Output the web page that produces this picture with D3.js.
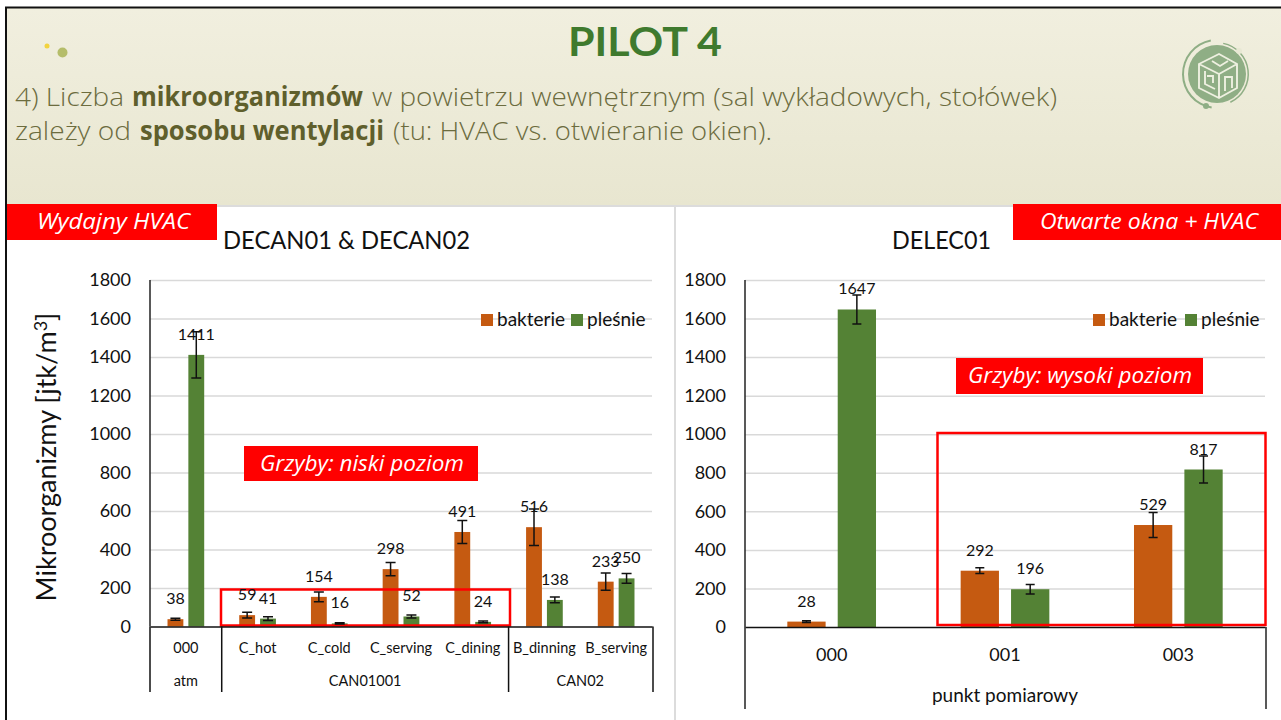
<!DOCTYPE html>
<html><head><meta charset="utf-8">
<script src="https://cdn.jsdelivr.net/npm/d3@7/dist/d3.min.js"></script>
<style>html,body{margin:0;padding:0;background:#fff}svg{display:block}text{font-family:Lato,sans-serif;fill:#111}</style>
</head><body><svg id="c" width="1281" height="720"></svg>
<script>
const seriesNames=["bakterie","pleśnie"];
const seriesColors=["#c55a11","#548235"];
const yTicks=[0,200,400,600,800,1000,1200,1400,1600,1800];
const leftCats=["000","C_hot","C_cold","C_serving","C_dining","B_dinning","B_serving"];
const leftBact=[38,59,154,298,491,516,233];
const leftMold=[1411,41,16,52,24,138,250];
const leftBactErr=[5,15,25,35,60,95,45];
const leftMoldErr=[120,10,3,8,5,15,25];
const leftGroups=[["atm",1],["CAN01001",4],["CAN02",2]];
const rightCats=["000","001","003"];
const rightBact=[28,292,529];
const rightMold=[1647,196,817];
const rightBactErr=[5,15,65];
const rightMoldErr=[75,25,70];

const svg=d3.select("#c");
const defs=svg.append("defs");
const g=defs.append("linearGradient").attr("id","bg").attr("x1",0).attr("x2",0).attr("y1",0).attr("y2",1);
g.append("stop").attr("offset",0).attr("stop-color","#f1efdf");
g.append("stop").attr("offset",1).attr("stop-color","#e8e6d0");

svg.append("rect").attr("x",6).attr("y",8).attr("width",1275).attr("height",197).attr("fill","url(#bg)");
svg.append("rect").attr("x",6).attr("y",205).attr("width",1275).attr("height",2).attr("fill","#dcdcdc");
svg.append("rect").attr("x",674).attr("y",205).attr("width",2).attr("height",515).attr("fill","#dcdcdc");
svg.append("path").attr("d","M6 720V7.5H1281").attr("fill","none").attr("stroke","#111").attr("stroke-width",2);

svg.append("circle").attr("cx",47).attr("cy",46).attr("r",2.5).attr("fill","#f2cf2c").attr("opacity",.9);
svg.append("circle").attr("cx",62.5).attr("cy",52.5).attr("r",5).attr("fill","#b5bd6a");

svg.append("text").attr("x",645).attr("y",56).attr("text-anchor","middle").attr("font-size",40).attr("font-weight",700)
  .style("fill","#3f7a2e").attr("textLength",154).attr("lengthAdjust","spacingAndGlyphs").text("PILOT 4");

function rich(y,parts){
  parts.forEach(([s,b,x0,x1])=>{
    svg.append("text").attr("x",x0).attr("y",y).attr("font-size",26)
      .style("font-family","'Open Sans',sans-serif").style("fill",b?"#5f5f2c":"#6c6c3e").attr("font-weight",b?700:300)
      .attr("textLength",x1-x0).attr("lengthAdjust","spacingAndGlyphs").text(s);
  });
}
rich(106,[["4) Liczba",0,15,124],["mikroorganizmów",1,132,363],["w powietrzu wewnętrznym (sal wykładowych, stołówek)",0,372,1057]]);
rich(140,[["zależy od",0,15,131],["sposobu wentylacji",1,140,384],["(tu: HVAC vs. otwieranie okien).",0,393,772]]);

// logo
const logo=svg.append("g").attr("transform","translate(1217,74)");
logo.append("circle").attr("r",29).attr("fill","#8fae85");
logo.append("path").attr("d",d3.arc()({innerRadius:33,outerRadius:35,startAngle:3.3,endAngle:6.1})).attr("fill","#8fae85");
logo.append("path").attr("d",d3.arc()({innerRadius:30.5,outerRadius:32,startAngle:0.2,endAngle:2.7})).attr("fill","#8fae85");
logo.append("circle").attr("cx",-11).attr("cy",32).attr("r",3).attr("fill","#8fae85");
logo.append("circle").attr("cx",22).attr("cy",-23).attr("r",3).attr("fill","#e8e8d4");
logo.append("path").attr("d","M-18 -10L2 -20L20 -10V14L2 24L-18 14ZM-18 -10L2 0L20 -10M2 0V24M-12 -3V10L-2 15M-10 2H-4V9M8 17V3H15V14M-5 -13L3 -8L11 -13")
  .attr("fill","none").attr("stroke","#eef0e0").attr("stroke-width",1.9);

function tag(x,y,w,h,tx,tw,label,fs){
  svg.append("rect").attr("x",x).attr("y",y).attr("width",w).attr("height",h).attr("fill","#ff0000");
  svg.append("text").attr("x",tx).attr("y",y+h/2+fs*0.34).attr("font-size",fs).attr("font-style","italic")
    .style("font-family","'Open Sans',sans-serif").style("fill","#fff").attr("textLength",tw).attr("lengthAdjust","spacingAndGlyphs").text(label);
}

function chart(o){
  const y=d3.scaleLinear().domain([0,1800]).range([o.y0,280]);
  const x0=d3.scaleBand().domain(o.cats).range([o.x0,o.x1]);
  const x1=d3.scaleBand().domain(seriesNames).range([0,x0.bandwidth()]).paddingInner(.24).paddingOuter(.84);
  const grid=svg.append("g").attr("transform",`translate(${o.x0},0)`)
    .call(d3.axisLeft(y).tickValues(yTicks.slice(1)).tickSize(-(o.x1-o.x0)).tickFormat(""));
  grid.select(".domain").remove();
  grid.selectAll("line").attr("stroke","#d9d9d9").attr("stroke-width",1.5);
  const ya=svg.append("g").attr("transform",`translate(${o.x0},0)`)
    .call(d3.axisLeft(y).tickValues(yTicks).tickSize(0).tickPadding(o.tickPad).tickFormat(d3.format("d")));
  ya.select(".domain").remove();
  ya.selectAll("text").attr("font-size",18).style("font-family","Lato,sans-serif").style("fill","#111");
  const rows=seriesNames.map((s,si)=>o.cats.map((c,i)=>({s,si,c,v:o.vals[si][i],e:o.errs[si][i]})));
  const m=svg.append("g");
  rows.forEach(r=>{
    m.selectAll(null).data(r).join("rect")
      .attr("x",d=>x0(d.c)+x1(d.s)).attr("width",x1.bandwidth())
      .attr("y",d=>y(d.v)).attr("height",d=>y(0)-y(d.v)).attr("fill",d=>seriesColors[d.si]);
  });
  svg.append("rect").attr("x",o.box[0]).attr("y",o.box[1]).attr("width",o.box[2]).attr("height",o.box[3])
    .attr("fill","none").attr("stroke","#ff0000").attr("stroke-width",2.5);
  rows.forEach(r=>{
    const cx=d=>x0(d.c)+x1(d.s)+x1.bandwidth()/2;
    svg.append("g").selectAll(null).data(r).join("path")
      .attr("d",d=>{const a=y(d.v+d.e),b=y(Math.max(0,d.v-d.e)),c=cx(d),w=o.cap;
        return `M${c-w} ${a}H${c+w}M${c} ${a}V${b}M${c-w} ${b}H${c+w}`;})
      .attr("fill","none").attr("stroke","#111").attr("stroke-width",1.5);
    svg.append("g").selectAll(null).data(r).join("text")
      .attr("x",cx).attr("y",d=>y(d.v)-15).attr("text-anchor","middle").attr("font-size",o.labelFs).text(d=>d.v);
  });
  const base=svg.append("g").attr("transform",`translate(0,${o.y0})`)
    .call(d3.axisBottom(x0).tickSize(0).tickPadding(o.catPad));
  base.select(".domain").attr("stroke","#111").attr("stroke-width",1.5);
  base.selectAll("text").attr("font-size",o.catFs).style("font-family","Lato,sans-serif").style("fill","#111");
  svg.append("line").attr("x1",o.x0).attr("x2",o.x0).attr("y1",280).attr("y2",o.y0).attr("stroke","#222").attr("stroke-width",1.5);
  return {x0,y};
}

const L=chart({cats:leftCats,vals:[leftBact,leftMold],errs:[leftBactErr,leftMoldErr],x0:150,x1:652,y0:626.5,tickPad:19,cap:5,labelFs:16,catFs:14.5,catPad:16,
  box:[221,589.5,289,36]});
const R=chart({cats:rightCats,vals:[rightBact,rightMold],errs:[rightBactErr,rightMoldErr],x0:745,x1:1265,y0:627,tickPad:19,cap:4.5,labelFs:16,catFs:18,catPad:21,
  box:[937.5,433,328,192]});

// multi-level axis separators
let pos=0;
leftGroups.forEach(([name,n])=>{
  const a=L.x0(leftCats[pos]), b=a+L.x0.step()*n;
  svg.append("text").attr("x",(a+b)/2).attr("y",686).attr("text-anchor","middle").attr("font-size",14.5).text(name);
  pos+=n;
});
[leftCats[0],leftCats[1],leftCats[5]].forEach(c=>{
  svg.append("line").attr("x1",L.x0(c)).attr("x2",L.x0(c)).attr("y1",626.5).attr("y2",692).attr("stroke","#111").attr("stroke-width",1.5);
});
svg.append("line").attr("x1",653).attr("x2",653).attr("y1",626.5).attr("y2",692).attr("stroke","#111").attr("stroke-width",1.5);
svg.append("text").attr("x",1005).attr("y",702).attr("text-anchor","middle").attr("font-size",19).text("punkt pomiarowy");
[745,1266].forEach(v=>svg.append("line").attr("x1",v).attr("x2",v).attr("y1",627).attr("y2",709).attr("stroke","#222").attr("stroke-width",1.5));

// titles
svg.append("text").attr("x",223).attr("y",249).attr("font-size",25).attr("textLength",247).attr("lengthAdjust","spacingAndGlyphs").text("DECAN01 & DECAN02");
svg.append("text").attr("x",892).attr("y",249).attr("font-size",25).attr("textLength",99).attr("lengthAdjust","spacingAndGlyphs").text("DELEC01");

// y title
const yt=svg.append("text").attr("transform","translate(56,457) rotate(-90)").attr("text-anchor","middle").attr("font-size",27);
yt.append("tspan").text("Mikroorganizmy [jtk/m");
yt.append("tspan").attr("dy",-9).attr("font-size",18).text("3");
yt.append("tspan").attr("dy",9).text("]");

// legends
function legend(positions){
  seriesNames.forEach((s,i)=>{
    svg.append("rect").attr("x",positions[i]).attr("y",314).attr("width",12).attr("height",12).attr("fill",seriesColors[i]);
    svg.append("text").attr("x",positions[i]+16).attr("y",326).attr("font-size",19).text(s);
  });
}
legend([481,571]);
legend([1093,1185]);

// red tags
tag(7,204,210,36,37,153,"Wydajny HVAC",21);
tag(1013,204,268,36,1040,218,"Otwarte okna + HVAC",21);
tag(244,446,234,35,260,204,"Grzyby: niski poziom",21);
tag(956,358,247,36,968,224,"Grzyby: wysoki poziom",21);
</script></body></html>
